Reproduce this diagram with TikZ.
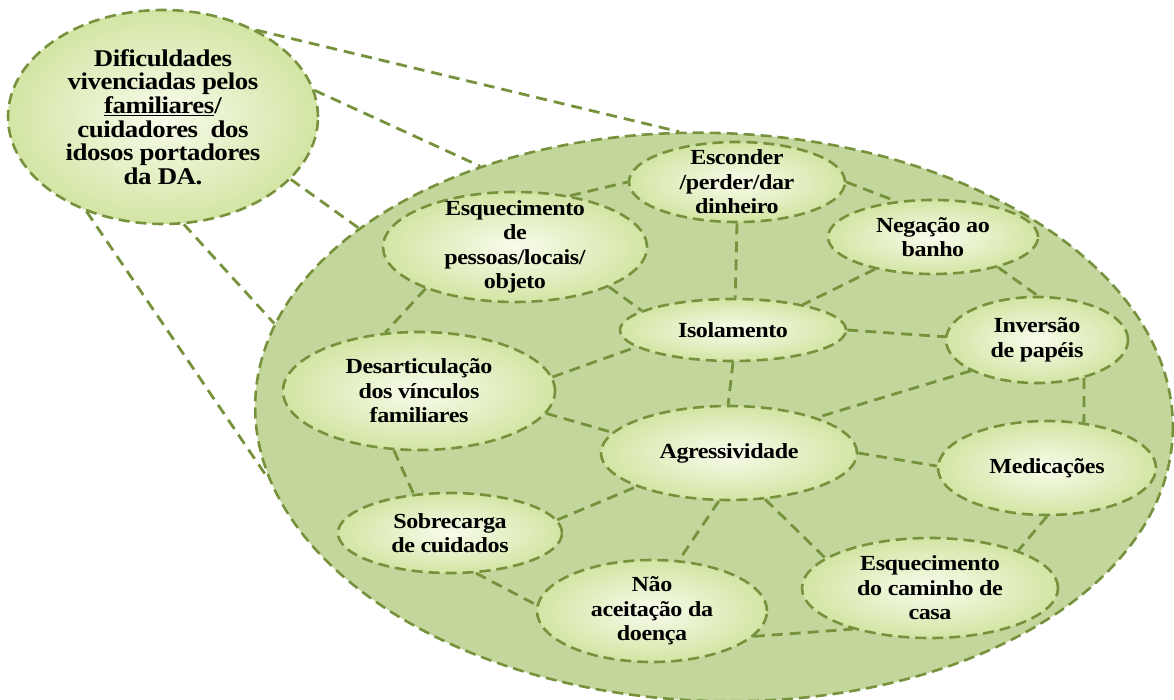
\documentclass[tikz,border=0pt]{standalone}
\usepackage{fontspec}
\setmainfont{Liberation Serif}[FakeStretch=1.12, LetterSpace=-2]
\usetikzlibrary{shapes.geometric}
\definecolor{olv}{HTML}{76923C}
\definecolor{bigfill}{HTML}{C3D69B}
\definecolor{bubin}{HTML}{F8FCEC}
\definecolor{bubout}{HTML}{D3E5A4}
\tikzset{
  dsh/.style={draw=olv, line width=2.6pt, dash pattern=on 11pt off 6pt},
  bub/.style={ellipse, dsh, inner sep=0pt, inner color=bubin, outer color=bubout},
  lbl/.style={font=\bfseries\fontsize{21.5}{24.5}\selectfont, align=center, inner sep=0pt, text=black},
  biglbl/.style={font=\bfseries\fontsize{24}{23.6}\selectfont, align=center, inner sep=0pt, text=black},
  link/.style={draw=olv, line width=2.8pt, dash pattern=on 11pt off 7pt},
}
\begin{document}
\begin{tikzpicture}[x=1pt,y=-1pt]
\useasboundingbox (0,0) rectangle (1174,700);

% small title ellipse
\node[bub, minimum width=310pt, minimum height=214pt] (dif) at (163,117) {};
\node[biglbl] (dift) at (dif.center) {Dificuldades\\vivenciadas pelos\\\underline{familiares}/\\cuidadores\ \ dos\\idosos portadores\\da DA.};

% large ellipse
\node[ellipse, dsh, fill=bigfill, inner sep=0pt, rotate=-2,
      minimum width=918pt, minimum height=568pt] (big) at (714,417) {};

\draw[link] (dif.43) -- (big.99.4);
\draw[link] (dif.10) -- (big.135.5);
\draw[link] (dif.-26) -- (big.154.3);
\draw[link] (dif.-79) -- (big.170.5);
\draw[link] (dif.-129) -- (big.190.4);

% inner ellipses
\node[bub, minimum width=216pt, minimum height=80pt]  (esc) at (737,182) {};
\node[bub, minimum width=210pt, minimum height=74pt]  (neg) at (933,237) {};
\node[bub, minimum width=264pt, minimum height=110pt] (esp) at (515,247) {};
\node[bub, minimum width=226pt, minimum height=62pt]  (iso) at (733,330) {};
\node[bub, minimum width=182pt, minimum height=86pt]  (inv) at (1037,340) {};
\node[bub, minimum width=272pt, minimum height=118pt] (des) at (419,391) {};
\node[bub, minimum width=256pt, minimum height=94pt]  (agr) at (729,453) {};
\node[bub, minimum width=218pt, minimum height=94pt]  (med) at (1047,468) {};
\node[bub, minimum width=224pt, minimum height=80pt]  (sob) at (450,533) {};
\node[bub, minimum width=230pt, minimum height=102pt] (nao) at (652,611) {};
\node[bub, minimum width=256pt, minimum height=100pt] (cas) at (930,588) {};

\node[lbl] (esct) at (esc.center) {Esconder\\/perder/dar\\dinheiro};
\node[lbl] (negt) at (neg.center) {Negação ao\\banho};
\node[lbl] (espt) at (esp.center) {Esquecimento\\de\\pessoas/locais/\\objeto};
\node[lbl] (isot) at (iso.center) {Isolamento};
\node[lbl] (invt) at (inv.center) {Inversão\\de papéis};
\node[lbl] (dest) at (des.center) {Desarticulação\\dos vínculos\\familiares};
\node[lbl] (agrt) at (agr.center) {Agressividade};
\node[lbl] (medt) at (med.center) {Medicações};
\node[lbl] (sobt) at (sob.center) {Sobrecarga\\de cuidados};
\node[lbl] (naot) at (nao.center) {Não\\aceitação da\\doença};
\node[lbl] (cast) at (cas.center) {Esquecimento\\do caminho de\\casa};

% connectors
\draw[link] (esp.43) -- (esc.180);
\draw[link] (esp.-23) -- (iso.168);
\draw[link] (esp.-155) -- (des.120);
\draw[link] (esc.-90) -- (iso.86);
\draw[link] (esc.0) -- (neg.136);
\draw[link] (neg.-151) -- (iso.20);
\draw[link] (neg.-25) -- (inv.89);
\draw[link] (iso.0) -- (inv.178);
\draw[link] (iso.-90) -- (agr.91);
\draw[link] (des.6) -- (iso.-170);
\draw[link] (des.-10) -- (agr.170);
\draw[link] (des.-113) -- (sob.133);
\draw[link] (sob.7) -- (agr.-160);
\draw[link] (sob.-57) -- (nao.177);
\draw[link] (agr.-102) -- (nao.62);
\draw[link] (agr.-52) -- (cas.164);
\draw[link] (nao.-14) -- (cas.-152);
\draw[link] (agr.0) -- (med.179);
\draw[link] (med.-90) -- (cas.23);
\draw[link] (inv.-155) -- (agr.22);
\draw[link] (inv.-39) -- (med.51);
\end{tikzpicture}
\end{document}
